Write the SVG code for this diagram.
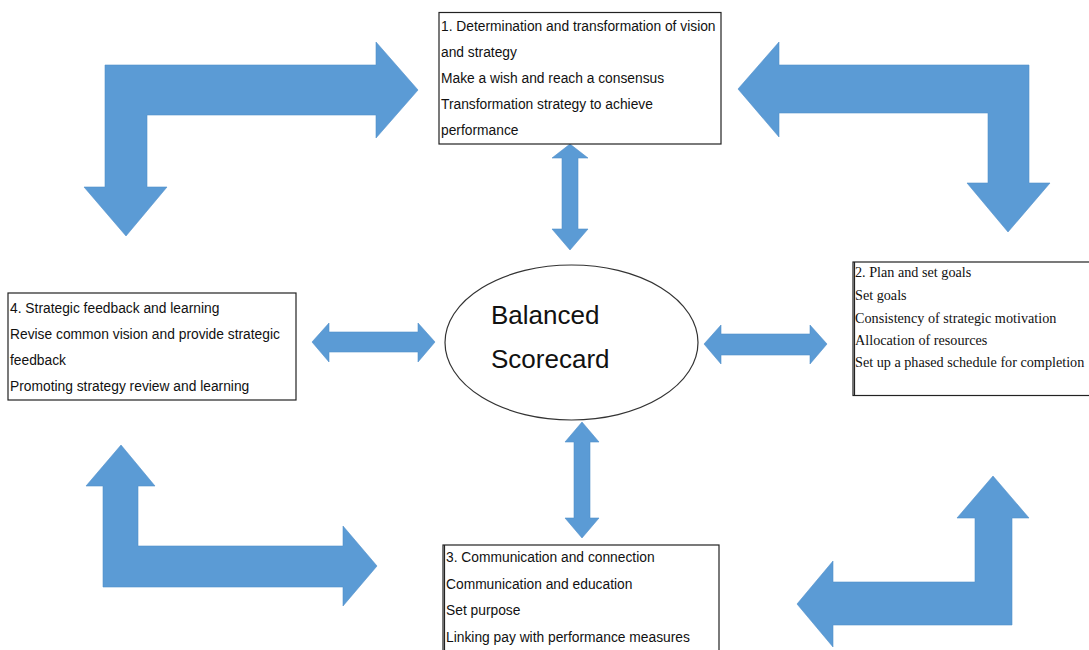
<svg xmlns="http://www.w3.org/2000/svg" width="1089" height="650" viewBox="0 0 1089 650">
  <style>
    .arrow { fill: #5B9BD5; stroke: #5290CB; stroke-width: 0.6; }
    .box { fill: #ffffff; stroke: #222222; stroke-width: 1.2; }
    .sans { font-family: "Liberation Sans", Arial, sans-serif; font-size: 13.8px; fill: #111111; }
    .serif { font-family: "Liberation Serif", "Times New Roman", serif; font-size: 14.2px; fill: #111111; }
    .hub { font-family: "Liberation Sans", Arial, sans-serif; font-size: 26px; fill: #111111; }
  </style>
  <rect width="1089" height="650" fill="#ffffff"/>

  <!-- connectors: bent cycle arrows and double-headed links to the hub -->
  <g id="connectors">
    <path class="arrow" d="M105,65 L376,65 L376,42 L418,90 L376,138 L376,115 L147,115 L147,187 L167,187 L126,236 L84,187 L105,187 Z"/>
    <path class="arrow" d="M779,65 L1029,65 L1029,183 L1050,183 L1008,232 L967,183 L988,183 L988,113 L779,113 L779,137 L738,89 L779,42 Z"/>
    <path class="arrow" d="M103,587 L103,486 L86,486 L121,445 L155,486 L138,486 L138,546 L343,546 L343,526 L377,566 L343,606 L343,587 Z"/>
    <path class="arrow" d="M1012,625 L833,625 L833,647 L797,604 L833,561 L833,582 L975,582 L975,518 L957,518 L993,476 L1029,518 L1012,518 Z"/>

    <path class="arrow" d="M570,144 L588,158 L578,158 L578,229 L588,229 L570,250 L552,229 L562,229 L562,158 L552,158 Z"/>
    <path class="arrow" d="M582,422 L599,442 L590,442 L590,518 L599,518 L582,538 L565,518 L574,518 L574,442 L565,442 Z"/>
    <path class="arrow" d="M312,342 L329,323 L329,332 L418,332 L418,323 L435,342 L418,362 L418,352 L329,352 L329,362 Z"/>
    <path class="arrow" d="M704,344 L721,325 L721,334 L810,334 L810,325 L827,344 L810,364 L810,355 L721,355 L721,364 Z"/>
  </g>

  <!-- hub -->
  <g id="hub">
    <ellipse cx="571.5" cy="342.5" rx="126.5" ry="77.5" fill="#ffffff" stroke="#333333" stroke-width="1.2"/>
    <text class="hub" x="491" y="324">Balanced</text>
    <text class="hub" x="491" y="368">Scorecard</text>
  </g>

  <!-- step 1 -->
  <g id="step1">
    <rect class="box" x="439" y="12.5" width="282" height="131.5"/>
    <text class="sans" x="441" y="31">1. Determination and transformation of vision</text>
    <text class="sans" x="441" y="57">and strategy</text>
    <text class="sans" x="441" y="83">Make a wish and reach a consensus</text>
    <text class="sans" x="441" y="109">Transformation strategy to achieve</text>
    <text class="sans" x="441" y="135">performance</text>
  </g>

  <!-- step 2 -->
  <g id="step2">
    <rect class="box" x="853" y="262" width="260" height="133.5"/>
    <line x1="854.5" y1="262" x2="854.5" y2="395.5" stroke="#222222" stroke-width="1.2"/>
    <text class="serif" x="855" y="277">2. Plan and set goals</text>
    <text class="serif" x="855" y="300">Set goals</text>
    <text class="serif" x="855" y="323">Consistency of strategic motivation</text>
    <text class="serif" x="855" y="345">Allocation of resources</text>
    <text class="serif" x="855" y="367">Set up a phased schedule for completion</text>
  </g>

  <!-- step 3 -->
  <g id="step3">
    <rect class="box" x="443" y="545" width="276" height="120"/>
    <line x1="444.5" y1="545" x2="444.5" y2="650" stroke="#222222" stroke-width="1.2"/>
    <text class="sans" x="446" y="562">3. Communication and connection</text>
    <text class="sans" x="446" y="589">Communication and education</text>
    <text class="sans" x="446" y="615">Set purpose</text>
    <text class="sans" x="446" y="642">Linking pay with performance measures</text>
  </g>

  <!-- step 4 -->
  <g id="step4">
    <rect class="box" x="8" y="293" width="288" height="107"/>
    <text class="sans" x="10" y="313">4. Strategic feedback and learning</text>
    <text class="sans" x="10" y="339">Revise common vision and provide strategic</text>
    <text class="sans" x="10" y="365">feedback</text>
    <text class="sans" x="10" y="391">Promoting strategy review and learning</text>
  </g>
</svg>
